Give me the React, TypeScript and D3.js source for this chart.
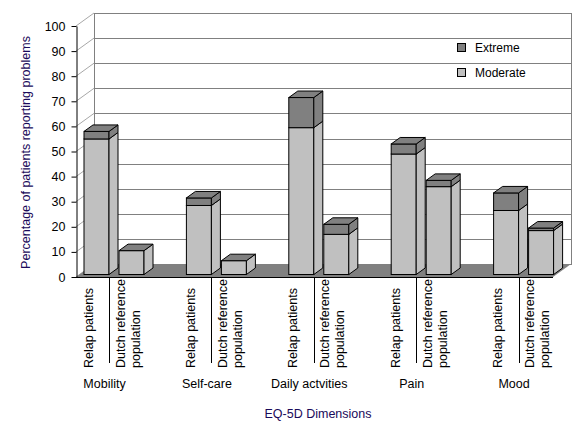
import * as d3 from 'd3';
import React, { useRef, useEffect } from 'react';

// EQ-5D dimensions and the two compared groups
const dimensions = ['Mobility', 'Self-care', 'Daily actvities', 'Pain', 'Mood'];
const groups = ['Relap patients', 'Dutch reference population'];
const groupLabelLines = [['Relap patients'], ['Dutch reference', 'population']];

// percentages
const relapModerate = [54, 27.5, 58.5, 48, 25.5];
const relapExtreme = [3, 3, 12, 4, 7];
const dutchModerate = [9.5, 5.5, 16, 35, 17.5];
const dutchExtreme = [0, 0, 4, 2.5, 1];

const yTicks = [0, 10, 20, 30, 40, 50, 60, 70, 80, 90, 100];
const legendItems = ['Extreme', 'Moderate'];

const width = 586;
const height = 432;
const front = { left: 76, right: 553, bottom: 277, top: 26 };
const wallDepth = { dx: 18, dy: -13 };
const barDepth = { dx: 9, dy: -6.5 };
const barShift = { dx: 3.5, dy: -2.5 };

const font = '"Liberation Sans", Arial, sans-serif';
const fontSize = 12.5;
const colModerate = '#c0c0c0';
const colExtreme = '#808080';
const titleColor = '#1a0a5a';

const App = () => {
  const containerRef = useRef<HTMLDivElement>(null);

  useEffect(() => {
    if (!containerRef.current) return;
    d3.select(containerRef.current).selectAll('*').remove();

    const svg = d3
      .select(containerRef.current)
      .append('svg')
      .attr('width', width)
      .attr('height', height)
      .style('position', 'absolute')
      .style('left', 0)
      .style('top', 0)
      .style('background', '#fff')
      .style('font-family', font);

    const y = d3.scaleLinear().domain([0, 100]).range([front.bottom, front.top]);

    const gx = d3
      .scaleBand()
      .domain(dimensions)
      .range([front.left + 4.5, front.left + 4.5 + 5 * 102.4]);
    const ix = d3.scaleBand().domain(groups).range([0, 60]).paddingInner(10 / 35);

    // back wall
    const wall = svg.append('g').attr('transform', `translate(${wallDepth.dx},${wallDepth.dy})`);
    wall
      .append('rect')
      .attr('x', front.left + 0.5)
      .attr('y', y(100) + 0.5)
      .attr('width', front.right - front.left)
      .attr('height', y(0) - y(100))
      .attr('fill', '#fff')
      .attr('stroke', '#808080');
    wall
      .selectAll('line.grid')
      .data(yTicks.filter((v) => v > 0 && v < 100))
      .join('line')
      .attr('class', 'grid')
      .attr('x1', front.left)
      .attr('x2', front.right)
      .attr('y1', (v) => Math.round(y(v)) + 0.5)
      .attr('y2', (v) => Math.round(y(v)) + 0.5)
      .attr('stroke', '#808080');

    // slanted lines on the left wall
    svg
      .selectAll('line.side')
      .data(yTicks)
      .join('line')
      .attr('class', 'side')
      .attr('x1', front.left)
      .attr('y1', (v) => y(v))
      .attr('x2', front.left + wallDepth.dx)
      .attr('y2', (v) => y(v) + wallDepth.dy)
      .attr('stroke', '#a8a8a8');

    // floor
    svg
      .append('polygon')
      .attr(
        'points',
        [
          [front.left, front.bottom],
          [front.left + wallDepth.dx, front.bottom + wallDepth.dy],
          [front.right + wallDepth.dx, front.bottom + wallDepth.dy],
          [front.right, front.bottom],
        ].join(' ')
      )
      .attr('fill', '#808080');

    // y axis
    const yAxis = d3.axisLeft(y).tickValues(yTicks).tickSize(5).tickSizeOuter(0).tickPadding(6);
    const ga = svg.append('g').attr('transform', `translate(${front.left + 0.5},0)`).call(yAxis);
    ga.select('.domain').attr('stroke', '#000');
    ga.selectAll('line').attr('stroke', '#000');
    ga.selectAll('text').attr('font-family', font).attr('font-size', fontSize).attr('fill', '#000');

    // x axis line
    svg
      .append('line')
      .attr('x1', front.left)
      .attr('x2', front.right)
      .attr('y1', front.bottom + 0.5)
      .attr('y2', front.bottom + 0.5)
      .attr('stroke', '#000');

    // bars
    const barData = dimensions.flatMap((d, i) => [
      { dim: d, grp: groups[0], mod: relapModerate[i], ext: relapExtreme[i] },
      { dim: d, grp: groups[1], mod: dutchModerate[i], ext: dutchExtreme[i] },
    ]);
    const bw = ix.bandwidth();
    const bars = svg.append('g');
    barData.forEach((b) => {
      const x0 = (gx(b.dim) as number) + (ix(b.grp) as number) + barShift.dx;
      const segs = [
        { v0: 0, v1: b.mod, c: colModerate },
        { v0: b.mod, v1: b.mod + b.ext, c: colExtreme },
      ];
      segs.forEach((s) => {
        const yt = y(s.v1) + barShift.dy;
        const yb = y(s.v0) + barShift.dy;
        if (yb - yt > 0) {
          bars
            .append('rect')
            .attr('x', x0)
            .attr('y', yt)
            .attr('width', bw)
            .attr('height', yb - yt)
            .attr('fill', s.c)
            .attr('stroke', '#000');
          bars
            .append('polygon')
            .attr(
              'points',
              [
                [x0 + bw, yt],
                [x0 + bw + barDepth.dx, yt + barDepth.dy],
                [x0 + bw + barDepth.dx, yb + barDepth.dy],
                [x0 + bw, yb],
              ].join(' ')
            )
            .attr('fill', s.c)
            .attr('stroke', '#000')
            .attr('stroke-linejoin', 'round');
        }
      });
      const ytop = y(b.mod + b.ext) + barShift.dy;
      bars
        .append('polygon')
        .attr(
          'points',
          [
            [x0, ytop],
            [x0 + barDepth.dx, ytop + barDepth.dy],
            [x0 + bw + barDepth.dx, ytop + barDepth.dy],
            [x0 + bw, ytop],
          ].join(' ')
        )
        .attr('fill', colExtreme)
        .attr('stroke', '#000')
        .attr('stroke-linejoin', 'round');
    });

    // category labels
    const labels = svg.append('g').attr('font-size', fontSize).attr('fill', '#000');
    dimensions.forEach((d) => {
      const gxd = gx(d) as number;
      const divX = Math.round(gxd + bw + barShift.dx) + 0.5;
      labels
        .append('line')
        .attr('x1', divX)
        .attr('x2', divX)
        .attr('y1', front.bottom)
        .attr('y2', 363)
        .attr('stroke', '#000');
      groups.forEach((g, gi) => {
        const bx = gxd + (ix(g) as number) + barShift.dx;
        const base = gi === 0 ? bx + 8.5 : bx + 5.5;
        groupLabelLines[gi].forEach((line, li) => {
          labels
            .append('text')
            .attr('transform', `translate(${base + li * 15},368) rotate(-90)`)
            .attr('text-anchor', 'start')
            .text(line);
        });
      });
      labels
        .append('text')
        .attr('x', gxd + 24)
        .attr('y', 388)
        .attr('text-anchor', 'middle')
        .text(d);
    });

    // axis titles
    svg
      .append('text')
      .attr('x', 318)
      .attr('y', 418)
      .attr('text-anchor', 'middle')
      .attr('font-size', fontSize)
      .attr('fill', titleColor)
      .text('EQ-5D Dimensions');
    svg
      .append('text')
      .attr('transform', 'translate(30,152.5) rotate(-90)')
      .attr('text-anchor', 'middle')
      .attr('font-size', fontSize)
      .attr('fill', titleColor)
      .text('Percentage of patients reporting problems');

    // legend
    const legend = svg.append('g').attr('transform', 'translate(457,43)');
    legend
      .selectAll('rect')
      .data(legendItems)
      .join('rect')
      .attr('x', 0.5)
      .attr('y', (_, i) => i * 25 + 0.5)
      .attr('width', 8)
      .attr('height', 8)
      .attr('fill', (_, i) => (i === 0 ? colExtreme : colModerate))
      .attr('stroke', '#000');
    legend
      .selectAll('text')
      .data(legendItems)
      .join('text')
      .attr('x', 18)
      .attr('y', (_, i) => i * 25 + 9)
      .attr('font-size', 12)
      .attr('fill', '#000')
      .text((d) => d);
  }, [containerRef]);

  return <div ref={containerRef}></div>;
};

export default App;
